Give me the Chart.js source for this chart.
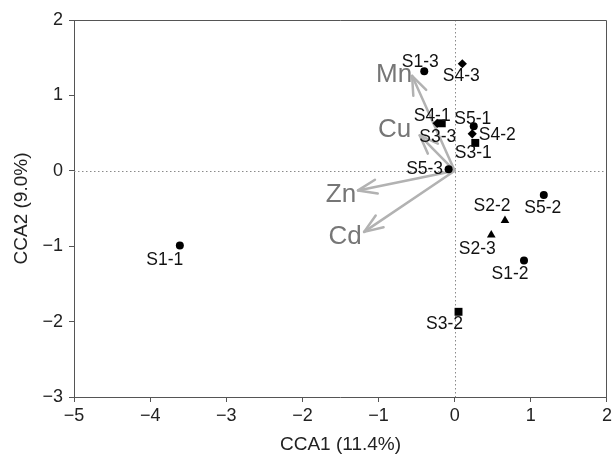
<!DOCTYPE html>
<html><head><meta charset="utf-8">
<script src="https://cdn.jsdelivr.net/npm/chart.js@4/dist/chart.umd.min.js"></script>
<style>html,body{margin:0;padding:0;background:#fff}#wrap{width:615px;height:454px;position:relative}</style>
</head><body><div id="wrap"><canvas id="c"></canvas></div>
<script>
// ---- data ----
const s1Labels = ['S1-1','S1-2','S1-3'];
const s1X = [-3.61, 0.91, -0.40];
const s1Y = [-0.99, -1.19, 1.32];

const s2Labels = ['S2-2','S2-3'];
const s2X = [0.66, 0.48];
const s2Y = [-0.66, -0.85];

const s3Labels = ['S3-1','S3-2','S3-3'];
const s3X = [0.27, 0.05, -0.17];
const s3Y = [0.37, -1.87, 0.63];

const s4Labels = ['S4-1','S4-2','S4-3'];
const s4X = [-0.23, 0.23, 0.10];
const s4Y = [0.63, 0.49, 1.42];

const s5Labels = ['S5-1','S5-2','S5-3'];
const s5X = [0.25, 1.17, -0.08];
const s5Y = [0.59, -0.32, 0.02];

const envLabels = ['Mn','Cu','Zn','Cd'];
const envX = [-0.56, -0.46, -1.27, -1.19];
const envY = [1.26, 0.47, -0.26, -0.81];

const xTicks = [-5,-4,-3,-2,-1,0,1,2];
const yTicks = [-3,-2,-1,0,1,2];
const xTitle = 'CCA1 (11.4%)';
const yTitle = 'CCA2 (9.0%)';

// ---- label placement (pixel offsets of label centre from marker) ----
const labelOffsets = {
  'S1-1':[-15,13],'S1-2':[-14,12],'S1-3':[-4,-11],
  'S2-2':[-13,-16],'S2-3':[-14,13],
  'S3-1':[-2,9],'S3-2':[-14,11],'S3-3':[-4,12],
  'S4-1':[-5,-9],'S4-2':[25,0],'S4-3':[-1,11],
  'S5-1':[-1,-9],'S5-2':[-1,12],'S5-3':[-24,-2]
};
const envOffsets = {'Mn':[-18,-3],'Cu':[-25,-8],'Zn':[-17,2],'Cd':[-19,3]};

const FONT = "'Liberation Sans', Arial, Helvetica, sans-serif";
const fmt = v => (v < 0 ? '\u2212' + Math.abs(v) : String(v));
const pts = (xs, ys, ls) => xs.map((x, i) => ({x, y: ys[i], label: ls[i]}));

function ds(name, xs, ys, ls, style, r) {
  return {label: name, data: pts(xs, ys, ls), pointStyle: style, pointRadius: r, pointHoverRadius: r,
    backgroundColor: '#000', borderColor: '#000', borderWidth: 0, showLine: false};
}

const refPlugin = {
  id: 'ref',
  beforeDraw(chart) {
    const c = chart.ctx; c.save(); c.fillStyle = '#fff'; c.fillRect(0, 0, chart.width, chart.height); c.restore();
  },
  beforeDatasetsDraw(chart) {
    const c = chart.ctx, a = chart.chartArea, xs = chart.scales.x, ys = chart.scales.y;
    const x0 = xs.getPixelForValue(0), y0 = ys.getPixelForValue(0);
    c.save();
    // dotted zero lines
    c.strokeStyle = '#8a8a8a'; c.lineWidth = 1; c.setLineDash([1.5, 2.5]);
    c.beginPath(); c.moveTo(Math.round(x0) + 0.5, a.top); c.lineTo(Math.round(x0) + 0.5, a.bottom); c.stroke();
    c.beginPath(); c.moveTo(a.left, Math.round(y0) + 0.5); c.lineTo(a.right, Math.round(y0) + 0.5); c.stroke();
    c.setLineDash([]);
    // arrows
    c.strokeStyle = '#b2b2b2'; c.lineWidth = 2.5; c.lineCap = 'round'; c.lineJoin = 'round';
    envLabels.forEach((n, i) => {
      const tx = xs.getPixelForValue(envX[i]), ty = ys.getPixelForValue(envY[i]);
      const ang = Math.atan2(ty - y0, tx - x0), L = 20, h = 0.36;
      c.beginPath(); c.moveTo(x0, y0); c.lineTo(tx, ty); c.stroke();
      c.beginPath();
      c.moveTo(tx - L * Math.cos(ang - h), ty - L * Math.sin(ang - h));
      c.lineTo(tx, ty);
      c.lineTo(tx - L * Math.cos(ang + h), ty - L * Math.sin(ang + h));
      c.stroke();
    });
    c.restore();
  },
  afterDatasetsDraw(chart) {
    const c = chart.ctx, a = chart.chartArea, xs = chart.scales.x, ys = chart.scales.y;
    c.save();
    // frame top/right
    c.strokeStyle = '#555'; c.lineWidth = 1;
    c.beginPath();
    c.moveTo(a.left, Math.round(a.top) + 0.5); c.lineTo(Math.round(a.right) - 0.5, Math.round(a.top) + 0.5);
    c.lineTo(Math.round(a.right) - 0.5, a.bottom); c.stroke();
    // env labels
    c.fillStyle = '#767676'; c.font = '26px ' + FONT; c.textAlign = 'center'; c.textBaseline = 'alphabetic';
    envLabels.forEach((n, i) => {
      const o = envOffsets[n];
      c.fillText(n, xs.getPixelForValue(envX[i]) + o[0], ys.getPixelForValue(envY[i]) + o[1] + 0.358 * 26);
    });
    // point labels
    c.fillStyle = '#111'; c.font = '17.5px ' + FONT;
    chart.data.datasets.forEach(d => d.data.forEach(p => {
      const o = labelOffsets[p.label] || [0, 0];
      c.fillText(p.label, xs.getPixelForValue(p.x) + o[0], ys.getPixelForValue(p.y) + o[1] + 0.358 * 17.5);
    }));
    c.restore();
  }
};

new Chart(document.getElementById('c'), {
  type: 'scatter',
  data: {datasets: [
    ds('S1', s1X, s1Y, s1Labels, 'circle', 4),
    ds('S2', s2X, s2Y, s2Labels, 'triangle', 5),
    ds('S3', s3X, s3Y, s3Labels, 'rect', 5.6),
    ds('S4', s4X, s4Y, s4Labels, 'rectRot', 4.6),
    ds('S5', s5X, s5Y, s5Labels, 'circle', 4)
  ]},
  options: {
    responsive: true, maintainAspectRatio: false, animation: false, devicePixelRatio: 1,
    layout: {padding: {top: 20, right: 4, left: 0, bottom: 0}},
    plugins: {legend: {display: false}, tooltip: {enabled: false}},
    scales: {
      x: {type: 'linear', min: -5, max: 2,
        afterBuildTicks: s => { s.ticks = xTicks.map(v => ({value: v})); },
        afterFit: s => { s.height = 57; },
        ticks: {callback: v => fmt(v), font: {family: FONT, size: 18}, color: '#222', padding: 3, maxRotation: 0, autoSkip: false},
        grid: {drawOnChartArea: false, drawTicks: true, tickLength: 5, color: '#555', tickColor: '#555'},
        border: {display: true, color: '#555', width: 1},
        title: {display: true, text: xTitle, font: {family: FONT, size: 19, lineHeight: 1}, color: '#222', padding: {top: 0, bottom: 0}}
      },
      y: {type: 'linear', min: -3, max: 2,
        afterBuildTicks: s => { s.ticks = yTicks.map(v => ({value: v})); },
        afterFit: s => { s.width = 74; },
        ticks: {callback: v => fmt(v), font: {family: FONT, size: 18}, color: '#222', padding: 6, autoSkip: false},
        grid: {drawOnChartArea: false, drawTicks: true, tickLength: 5, color: '#555', tickColor: '#555'},
        border: {display: true, color: '#555', width: 1},
        title: {display: true, text: yTitle, font: {family: FONT, size: 19, lineHeight: 1}, color: '#222', padding: {top: 12, bottom: 0}}
      }
    }
  },
  plugins: [refPlugin]
});
</script>
</body></html>
